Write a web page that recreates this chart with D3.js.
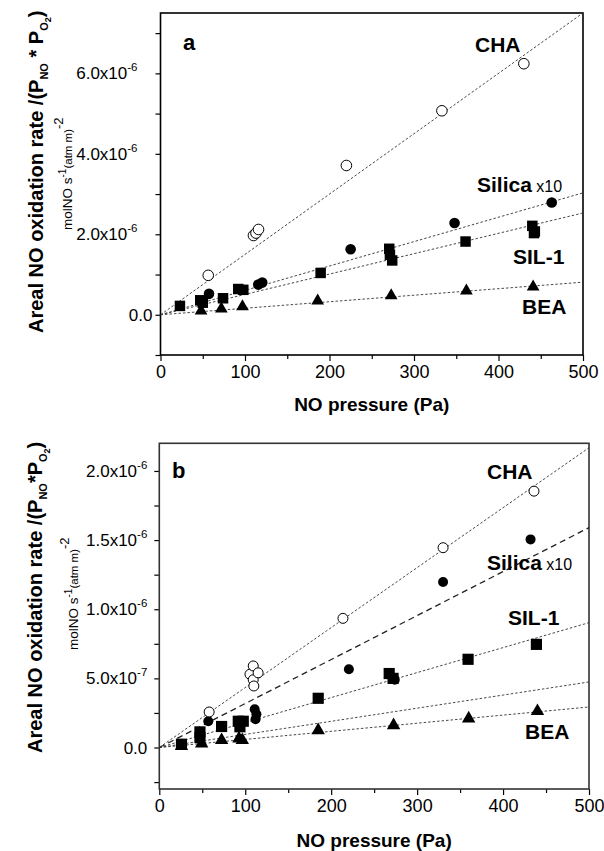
<!DOCTYPE html>
<html><head><meta charset="utf-8">
<script src="https://cdn.jsdelivr.net/npm/d3@7/dist/d3.min.js"></script>
<style>
body{margin:0;background:#fff}
svg{display:block}
text{font-family:"Liberation Sans",Arial,Helvetica,sans-serif;fill:#000}
</style>
</head><body>
<svg id="chart" width="604" height="851"></svg>
<script>
// ---------- DATA ----------
const xTickValues = [0, 100, 200, 300, 400, 500];
const xMinorValues = [50, 150, 250, 350, 450];
const xTickLabels = ["0", "100", "200", "300", "400", "500"];

// panel a y ticks
const aYTicks = [0, 2e-6, 4e-6, 6e-6];
const aYMant = ["0.0", "2.0", "4.0", "6.0"];
const aYExp = [null, "-6", "-6", "-6"];
const aYMinor = [-1e-6, 1e-6, 3e-6, 5e-6, 7e-6];

// panel b y ticks
const bYTicks = [0, 5e-7, 1e-6, 1.5e-6, 2e-6];
const bYMant = ["0.0", "5.0", "1.0", "1.5", "2.0"];
const bYExp = [null, "-7", "-6", "-6", "-6"];
const bYMinor = [-2.5e-7, 2.5e-7, 7.5e-7, 1.25e-6, 1.75e-6];

// panel a series (NO pressure Pa, rate)
const aCHAx = [56.5, 110, 113, 116, 220, 333, 430];
const aCHAy = [0.98e-6, 1.97e-6, 2.03e-6, 2.12e-6, 3.71e-6, 5.07e-6, 6.24e-6];
const aSilicaX = [57.4, 115.7, 120.4, 225, 348, 463];
const aSilicaY = [0.52e-6, 0.75e-6, 0.80e-6, 1.63e-6, 2.28e-6, 2.79e-6];
const aSIL1x = [23, 47, 50, 74, 92, 98, 189.5, 270.7, 271.5, 274.2, 361, 440, 442, 443];
const aSIL1y = [0.22e-6, 0.36e-6, 0.30e-6, 0.41e-6, 0.64e-6, 0.62e-6, 1.04e-6, 1.64e-6, 1.49e-6, 1.35e-6, 1.82e-6, 2.21e-6, 2.03e-6, 2.07e-6];
const aBEAx = [48, 72, 97, 186, 273, 362, 441];
const aBEAy = [0.12e-6, 0.17e-6, 0.23e-6, 0.37e-6, 0.50e-6, 0.62e-6, 0.72e-6];
// fit lines from origin: value at 500 Pa
const aFitNames = ["CHA", "Silica", "SIL-1", "BEA"];
const aFitEnd = [7.5e-6, 3.03e-6, 2.53e-6, 0.81e-6];

// panel b series
const bCHAx = [58, 105.5, 109.3, 109.3, 110, 115, 213.7, 330.2, 436];
const bCHAy = [0.257e-6, 0.53e-6, 0.59e-6, 0.49e-6, 0.445e-6, 0.54e-6, 0.934e-6, 1.445e-6, 1.854e-6];
const bSilicaX = [57, 111, 113, 112, 220.6, 274, 330.2, 432];
const bSilicaY = [0.19e-6, 0.277e-6, 0.24e-6, 0.205e-6, 0.566e-6, 0.49e-6, 1.197e-6, 1.505e-6];
const bSIL1x = [25.8, 47.3, 47.3, 72.5, 91.9, 97.7, 93.8, 184.9, 267.5, 272, 359.3, 438.8];
const bSIL1y = [0.024e-6, 0.113e-6, 0.072e-6, 0.152e-6, 0.19e-6, 0.19e-6, 0.15e-6, 0.356e-6, 0.535e-6, 0.50e-6, 0.638e-6, 0.746e-6];
const bBEAx = [25.8, 49.3, 72.5, 92.7, 96.6, 184.9, 272.6, 360, 440];
const bBEAy = [0.017e-6, 0.036e-6, 0.06e-6, 0.072e-6, 0.06e-6, 0.132e-6, 0.168e-6, 0.217e-6, 0.27e-6];
const bFitNames = ["CHA", "Silica", "SIL-1", "extra", "BEA"];
const bFitEnd = [2.168e-6, 1.59e-6, 0.903e-6, 0.474e-6, 0.293e-6];

// ---------- DRAW ----------
const svg = d3.select("#chart");

const zipPts = (xs, ys) => xs.map((x, i) => [x, ys[i]]);

function drawPanel(cfg) {
  const x = d3.scaleLinear().domain([0, 500]).range([cfg.left, cfg.right]);
  const y = d3.scaleLinear().domain(cfg.yDomain).range([cfg.bottom, cfg.top]);
  const g = svg.append("g");
  const clipId = "clip" + cfg.id;
  svg.append("clipPath").attr("id", clipId).append("rect")
    .attr("x", cfg.left).attr("y", cfg.top)
    .attr("width", cfg.right - cfg.left).attr("height", cfg.bottom - cfg.top);

  // x axis
  const xa = g.append("g").attr("transform", `translate(0,${cfg.bottom})`)
    .call(d3.axisBottom(x).tickValues(xTickValues).tickSize(6).tickPadding(4)
      .tickFormat((d, i) => xTickLabels[i]));
  xa.select(".domain").remove();
  xa.selectAll("line").attr("stroke", "#000").attr("stroke-width", 1.2);
  xa.selectAll("text").attr("font-size", 18).attr("font-family", '"Liberation Sans",Arial,sans-serif').attr("fill", "#000");
  const xm = g.append("g").attr("transform", `translate(0,${cfg.bottom})`)
    .call(d3.axisBottom(x).tickValues(xMinorValues).tickSize(4).tickFormat(""));
  xm.select(".domain").remove();
  xm.selectAll("line").attr("stroke", "#000").attr("stroke-width", 1.2);

  // y axis
  const ya = g.append("g").attr("transform", `translate(${cfg.left},0)`)
    .call(d3.axisLeft(y).tickValues(cfg.yTicks).tickSize(5).tickFormat(""));
  ya.select(".domain").remove();
  ya.selectAll("line").attr("stroke", "#000").attr("stroke-width", 1.2);
  const ym = g.append("g").attr("transform", `translate(${cfg.left},0)`)
    .call(d3.axisLeft(y).tickValues(cfg.yMinor).tickSize(5).tickFormat(""));
  ym.select(".domain").remove();
  ym.selectAll("line").attr("stroke", "#000").attr("stroke-width", 1.2);

  // y tick labels
  cfg.yTicks.forEach((v, i) => {
    const t = g.append("text").attr("text-anchor", "end")
      .attr("y", y(v) + 6).attr("font-size", 17);
    if (cfg.yExp[i]) {
      t.attr("x", cfg.left + cfg.expLabelOffset);
      t.append("tspan").text(cfg.yMant[i] + "x10");
      t.append("tspan").attr("font-size", 11.5).attr("dy", -8).text(cfg.yExp[i]);
    } else {
      t.attr("x", cfg.left + cfg.zeroLabelOffset).text(cfg.yMant[i]);
    }
  });

  // frame
  g.append("rect").attr("x", cfg.left).attr("y", cfg.top)
    .attr("width", cfg.right - cfg.left).attr("height", cfg.bottom - cfg.top)
    .attr("fill", "none").attr("stroke", cfg.frameColor).attr("stroke-width", 1.6);

  // fit lines
  const lg = g.append("g").attr("clip-path", `url(#${clipId})`);
  cfg.fitEnd.forEach((v, i) => {
    const st = cfg.lineStyles[i];
    lg.append("line")
      .attr("x1", x(0)).attr("y1", y(0)).attr("x2", x(500)).attr("y2", y(v))
      .attr("stroke", st.color).attr("stroke-width", st.width)
      .attr("stroke-dasharray", st.dash);
  });

  // markers
  const mg = g.append("g");
  const sq = d3.symbol().type(d3.symbolSquare).size(cfg.sqSize);
  const tri = d3.symbol().type(d3.symbolTriangle).size(cfg.triSize);
  cfg.squares.forEach(p => mg.append("path").attr("d", sq())
    .attr("transform", `translate(${x(p[0])},${y(p[1])})`).attr("fill", "#000"));
  cfg.triangles.forEach(p => mg.append("path").attr("d", tri())
    .attr("transform", `translate(${x(p[0])},${y(p[1]) + 1})`).attr("fill", "#000"));
  cfg.filled.forEach(p => mg.append("circle").attr("cx", x(p[0])).attr("cy", y(p[1]))
    .attr("r", cfg.r).attr("fill", "#000"));
  cfg.open.forEach(p => mg.append("circle").attr("cx", x(p[0])).attr("cy", y(p[1]))
    .attr("r", cfg.r).attr("fill", "#fff").attr("stroke", "#000").attr("stroke-width", 1));

  // panel letter
  g.append("text").attr("x", cfg.letterPos[0]).attr("y", cfg.letterPos[1])
    .attr("font-size", 22).attr("font-weight", "bold").text(cfg.letter);

  // series labels
  cfg.labels.forEach(l => {
    const t = g.append("text").attr("x", l.x).attr("y", l.y)
      .attr("font-size", 21).attr("font-weight", "bold").text(l.text);
    if (l.suffix) t.append("tspan").attr("font-weight", "normal").attr("font-size", 16).text(" " + l.suffix);
  });

  // x title
  g.append("text").attr("x", (cfg.left + cfg.right) / 2).attr("y", cfg.xTitleY)
    .attr("text-anchor", "middle").attr("font-size", 19).attr("font-weight", "bold")
    .text("NO pressure (Pa)");

  // y title line 1
  const t1 = g.append("text").attr("transform", `translate(${cfg.t1x},${cfg.t1y}) rotate(-90)`)
    .attr("font-size", 20).attr("font-weight", "bold");
  t1.append("tspan").text("Areal NO oxidation rate /(P");
  t1.append("tspan").attr("font-size", 11).attr("dy", 5).text("NO");
  t1.append("tspan").attr("dy", -5).text(cfg.star);
  t1.append("tspan").text("P");
  t1.append("tspan").attr("font-size", 11).attr("dy", 5).text("O");
  t1.append("tspan").attr("font-size", 9).attr("dy", 3).text("2");
  t1.append("tspan").attr("dy", -8).text(")");

  // y title line 2
  const t2 = g.append("text").attr("transform", `translate(${cfg.t2x},${cfg.t2y}) rotate(-90)`)
    .attr("font-size", 13.5);
  t2.append("tspan").text("molNO s");
  t2.append("tspan").attr("font-size", 10).attr("dy", -6).text("-1");
  t2.append("tspan").attr("font-size", 11.5).attr("dy", 6).text("(atm m)");
  t2.append("tspan").attr("font-size", 13).attr("dy", -9).text("-2");
}

const thin = {color: "#333", width: 0.9, dash: "2.5,2"};
const bold = {color: "#222", width: 1.3, dash: "6,4"};

drawPanel({
  id: "a", left: 160.5, right: 583, top: 13, bottom: 355,
  yDomain: [-1e-6, 7.5e-6], yTicks: aYTicks, yMant: aYMant, yExp: aYExp, yMinor: aYMinor,
  expLabelOffset: -23, zeroLabelOffset: -8, frameColor: "#000",
  fitEnd: aFitEnd, lineStyles: [thin, thin, thin, thin],
  open: zipPts(aCHAx, aCHAy), filled: zipPts(aSilicaX, aSilicaY),
  squares: zipPts(aSIL1x, aSIL1y), triangles: zipPts(aBEAx, aBEAy),
  r: 5.3, sqSize: 110, triSize: 70,
  letter: "a", letterPos: [183, 50],
  labels: [
    {text: "CHA", x: 475, y: 52},
    {text: "Silica", suffix: "x10", x: 477, y: 192},
    {text: "SIL-1", x: 513, y: 264},
    {text: "BEA", x: 522, y: 314}
  ],
  xTitleY: 411, star: " * ",
  t1x: 43, t1y: 333, t2x: 72, t2y: 230
});

drawPanel({
  id: "b", left: 159.3, right: 589, top: 443.3, bottom: 789,
  yDomain: [-3e-7, 2.2e-6], yTicks: bYTicks, yMant: bYMant, yExp: bYExp, yMinor: bYMinor,
  expLabelOffset: -12, zeroLabelOffset: -12, frameColor: "#333",
  fitEnd: bFitEnd, lineStyles: [thin, bold, thin, thin, thin],
  open: zipPts(bCHAx, bCHAy), filled: zipPts(bSilicaX, bSilicaY),
  squares: zipPts(bSIL1x, bSIL1y), triangles: zipPts(bBEAx, bBEAy),
  r: 5, sqSize: 125, triSize: 78,
  letter: "b", letterPos: [172, 478],
  labels: [
    {text: "CHA", x: 487, y: 479},
    {text: "Silica", suffix: "x10", x: 487, y: 570},
    {text: "SIL-1", x: 508, y: 625},
    {text: "BEA", x: 525, y: 739}
  ],
  xTitleY: 847, star: "*",
  t1x: 42, t1y: 753, t2x: 78, t2y: 650
});
</script>
</body></html>
